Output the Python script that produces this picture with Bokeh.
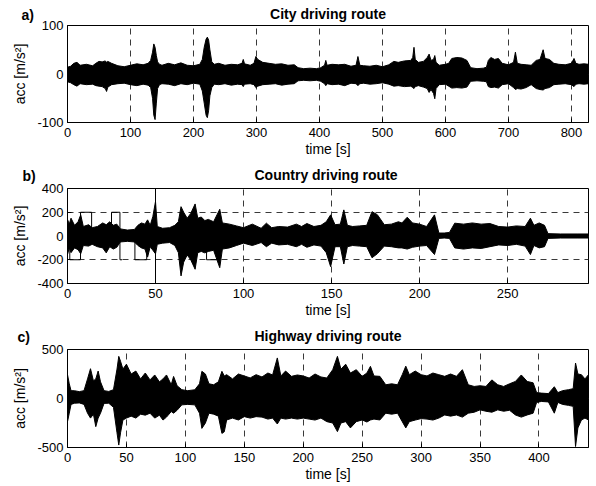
import math
from bokeh.plotting import figure
from bokeh.layouts import column
from bokeh.models import Title, Range1d
from bokeh.embed import file_html
from bokeh.resources import INLINE

FONT = "Liberation Sans"
NAN = float("nan")

# ---------------- a) City driving route (envelope of acc signal) ----------------
city_t = [0, 5, 10, 15, 20, 30, 40, 45, 50, 55,
          60, 62, 64, 70, 80, 90, 100, 110, 120, 128,
          132, 135, 137, 139, 141, 143, 146, 150, 160, 170,
          180, 190, 200, 210, 214, 217, 220, 222, 224, 226,
          229, 233, 240, 250, 260, 270, 277, 279, 281, 290,
          296, 299, 302, 310, 320, 330, 340, 350, 360, 366,
          375, 385, 395, 402, 408, 410, 412, 420, 430, 440,
          450, 458, 461, 464, 470, 480, 490, 500, 510, 518,
          525, 535, 545, 548, 550, 552, 557, 565, 571, 574,
          577, 581, 583, 585, 590, 600, 605, 610, 618, 626,
          634, 640, 650, 660, 665, 668, 672, 678, 684, 690,
          700, 708, 711, 714, 720, 728, 736, 744, 750, 755,
          758, 765, 772, 780, 790, 800, 804, 807, 812, 820,
          827]
city_up = [14, 16, 22, 24, 18, 20, 17, 22, 26, 25,
           27, 24, 26, 22, 17, 15, 18, 21, 19, 22,
           28, 45, 62, 55, 38, 25, 20, 18, 22, 19,
           23, 18, 17, 20, 30, 55, 72, 76, 70, 50,
           25, 20, 22, 18, 20, 19, 22, 30, 21, 18,
           22, 36, 30, 24, 22, 20, 21, 18, 19, 13,
           11, 12, 11, 13, 18, 28, 18, 20, 19, 20,
           16, 18, 36, 18, 17, 16, 18, 15, 19, 26,
           24, 27, 28, 34, 55, 30, 24, 26, 34, 41,
           28, 30, 38, 24, 18, 20, 22, 32, 34, 33,
           28, 13, 11, 12, 14, 28, 34, 30, 32, 22,
           19, 24, 45, 22, 20, 19, 18, 28, 30, 50,
           32, 30, 22, 20, 19, 22, 32, 22, 20, 21,
           20]
city_lo = [-16, -18, -22, -25, -20, -22, -21, -24, -25, -26,
           -30, -36, -27, -22, -20, -19, -22, -24, -21, -23,
           -28, -50, -85, -94, -60, -30, -22, -20, -21, -24,
           -20, -22, -19, -21, -35, -60, -85, -90, -75, -45,
           -28, -21, -22, -20, -23, -21, -22, -26, -21, -20,
           -22, -28, -25, -22, -21, -20, -23, -21, -20, -14,
           -13, -14, -13, -15, -20, -24, -20, -22, -21, -24,
           -19, -20, -24, -20, -19, -21, -20, -18, -21, -25,
           -24, -26, -25, -28, -30, -26, -24, -27, -30, -38,
           -32, -40, -51, -30, -22, -21, -25, -29, -28, -29,
           -27, -15, -14, -15, -16, -26, -28, -27, -29, -22,
           -20, -28, -32, -30, -31, -28, -22, -30, -32, -33,
           -30, -28, -22, -21, -20, -22, -26, -21, -20, -21,
           -20]
city_xticks = [0, 100, 200, 300, 400, 500, 600, 700, 800]
city_yticks = [-100, 0, 100]

# ---------------- b) Country driving route ----------------
country_t = [0, 1, 2, 4, 6, 7.5, 9, 12, 14, 17,
             20, 22, 24, 26, 28, 30, 34, 38, 40, 42,
             44, 45.5, 47, 48.5, 50, 51, 54, 58, 61, 63,
             64.5, 66, 68, 70, 72.5, 74, 76, 78, 80, 83,
             86.5, 88, 92, 96, 100, 105, 110, 113, 116, 120,
             125, 130, 133, 136, 140, 144, 147, 149.5, 152, 155,
             157, 159, 162, 166, 170, 173, 176, 180, 184, 188,
             190, 193, 196, 200, 204, 208.5, 211, 214, 217, 220,
             225, 230, 235, 240, 245, 250, 255, 260, 263, 265,
             268, 271, 273, 280, 290, 296]
country_up = [140, 100, 150, 90, 120, 178, 80, 95, 70, 80,
              110, 95, 120, 90, 100, 60, 50, 55, 90, 110,
              100, 136, 90, 165, 290, 80, 65, 70, 90, 120,
              247, 200, 150, 190, 270, 150, 160, 130, 140, 120,
              225, 110, 100, 85, 70, 100, 65, 108, 70, 80,
              75, 100, 80, 105, 80, 90, 120, 178, 95, 100,
              220, 90, 80, 85, 90, 205, 180, 95, 100, 120,
              110, 158, 110, 100, 80, 178, 25, 25, 30, 108,
              100, 110, 100, 105, 80, 75, 85, 80, 150, 90,
              110, 90, 20, 17, 17, 17]
country_lo = [-156, -100, -140, -100, -115, -150, -80, -85, -70, -90,
              -100, -142, -90, -110, -95, -50, -45, -50, -80, -100,
              -110, -178, -90, -120, -150, -70, -60, -55, -80, -140,
              -336, -220, -160, -200, -280, -140, -130, -142, -130, -120,
              -267, -110, -100, -80, -60, -80, -55, -90, -60, -75,
              -70, -90, -70, -95, -75, -85, -140, -258, -90, -90,
              -236, -90, -80, -85, -90, -183, -150, -85, -90, -100,
              -100, -110, -95, -85, -80, -156, -20, -17, -20, -100,
              -110, -100, -105, -90, -75, -80, -70, -85, -156, -80,
              -100, -90, -20, -17, -17, -17]
# rectangular trigger pulses visible in panel b (NaN = break)
mark_t = [1.3, 1.3, 7.4, 7.4, 13.7, 13.7, NAN,
          25, 25, 29.8, 29.8, 31, NAN,
          38.3, 38.3, 45, 45, NAN,
          50, 50, NAN,
          79, 79, 86, 86]
mark_v = [0, -200, -200, 200, 200, 0, NAN,
          0, 200, 200, -200, -200, NAN,
          0, -200, -200, 0, NAN,
          -400, 400, NAN,
          0, -200, -200, 0]
country_xticks = [0, 50, 100, 150, 200, 250]
country_yticks = [-400, -200, 0, 200, 400]

# ---------------- c) Highway driving route ----------------
highway_t = [0, 1.5, 3, 6, 10, 14, 17, 19.5, 22, 24,
             26, 28, 31, 35, 39, 42, 43.5, 45, 47, 50,
             54, 58, 62, 66, 70, 74, 78, 81, 84, 88,
             90, 93, 97, 102, 108, 112, 114, 117, 120, 124,
             128, 131, 133, 135, 140, 145, 150, 155, 160, 165,
             170, 174, 178, 181, 185, 190, 195, 200, 205, 210,
             215, 220, 225, 229, 232, 236, 240, 245, 250, 254,
             257, 260, 265, 270, 275, 280, 284, 287, 290, 295,
             300, 305, 310, 315, 320, 325, 330, 335, 340, 345,
             350, 355, 360, 365, 370, 375, 380, 385, 390, 395,
             398, 402, 408, 413, 416, 420, 425, 429, 431, 433,
             436, 439, 442]
highway_up = [243, 150, 80, 79, 70, 80, 200, 304, 180, 200,
              280, 170, 80, 72, 90, 300, 430, 380, 300, 350,
              250, 280, 200, 260, 190, 240, 170, 200, 240, 140,
              225, 130, 90, 80, 89, 150, 277, 250, 150, 140,
              170, 277, 230, 243, 200, 250, 230, 210, 243, 220,
              260, 240, 414, 230, 280, 226, 240, 230, 209, 250,
              220, 209, 294, 430, 300, 350, 260, 294, 226, 260,
              328, 230, 226, 140, 150, 140, 243, 330, 243, 280,
              243, 230, 260, 243, 226, 250, 226, 294, 140, 123,
              130, 123, 190, 140, 123, 150, 174, 240, 174, 160,
              60, 55, 50, 120, 60, 80, 90, 100, 362, 250,
              243, 200, 243]
highway_lo = [-236, -150, -60, -48, -45, -60, -150, -200, -160, -287,
              -200, -150, -50, -48, -90, -350, -475, -350, -220, -200,
              -180, -200, -160, -170, -150, -200, -170, -220, -190, -133,
              -150, -120, -65, -60, -65, -150, -305, -250, -150, -160,
              -180, -356, -340, -219, -200, -219, -185, -200, -185, -190,
              -210, -200, -260, -200, -210, -200, -210, -200, -210, -220,
              -200, -236, -250, -338, -250, -236, -300, -236, -219, -240,
              -219, -210, -219, -150, -160, -150, -236, -300, -236, -220,
              -205, -210, -220, -200, -168, -180, -168, -190, -150, -140,
              -116, -130, -140, -116, -130, -120, -168, -190, -168, -150,
              -40, -30, -35, -150, -40, -60, -70, -80, -490, -300,
              -219, -200, -219]
highway_xticks = [0, 50, 100, 150, 200, 250, 300, 350, 400]
highway_yticks = [-500, 0, 500]


def make_panel(letter, title, t, up, lo, xmax, xticks, yticks, height, top, bottom,
               title_off, letter_off):
    p = figure(width=596, height=height, output_backend="svg", toolbar_location=None,
               x_range=Range1d(0, xmax), y_range=Range1d(yticks[0], yticks[-1]),
               min_border_left=67, min_border_right=8,
               min_border_top=top, min_border_bottom=bottom)
    p.background_fill_color = "white"
    p.border_fill_color = "white"
    p.outline_line_color = "black"
    p.outline_line_width = 1
    p.outline_line_alpha = 1

    # letter title sits next to the frame (its panel fills the top border),
    # main title is stacked outside it and pulled down onto the same line
    s_letter = top - 19
    anchor = top - s_letter / 2
    s_main = 2 * (2 - anchor)

    p.title.text = title
    p.title.align = "center"
    p.title.offset = title_off
    p.title.standoff = s_main
    p.title.text_font = FONT
    p.title.text_font_size = "14px"
    p.title.text_font_style = "bold"
    p.title.text_color = "black"

    p.add_layout(Title(text=letter, align="left", offset=letter_off, standoff=s_letter,
                       text_font=FONT, text_font_size="14px", text_font_style="bold",
                       text_color="black"), "above")

    p.varea(x=t, y1=lo, y2=up, fill_color="black")
    p.line(t, up, line_color="black", line_width=1)
    p.line(t, lo, line_color="black", line_width=1)

    for ax, ticks in ((p.xaxis, xticks), (p.yaxis, yticks)):
        ax.ticker = ticks
        ax.major_label_overrides = {v: str(v) for v in ticks}
        ax.major_tick_in = 4
        ax.major_tick_out = 0
        ax.minor_tick_line_color = None
        ax.axis_line_color = "black"
        ax.major_tick_line_color = "black"
        ax.major_label_text_font = FONT
        ax.major_label_text_font_size = "13px"
        ax.major_label_text_color = "black"
        ax.axis_label_text_font = FONT
        ax.axis_label_text_font_size = "14px"
        ax.axis_label_text_font_style = "normal"
        ax.axis_label_text_color = "black"
    p.xaxis.axis_label = "time [s]"
    p.xaxis.major_label_standoff = 5
    p.xaxis.axis_label_standoff = 1
    p.yaxis.axis_label = "acc [m/s²]"
    p.yaxis.major_label_standoff = 4
    p.yaxis.axis_label_standoff = 6

    for g in (p.xgrid, p.ygrid):
        g.grid_line_color = "#3a3a3a"
        g.grid_line_dash = "6 5"
        g.grid_line_width = 1
        g.grid_line_alpha = 1
        g.level = "underlay"
    return p


pa = make_panel("a)", "City driving route", city_t, city_up, city_lo, 827,
                city_xticks, city_yticks, 160, 25, 38, -6, -46)
pb = make_panel("b)", "Country  driving route", country_t, country_up, country_lo, 296,
                country_xticks, country_yticks, 160, 28, 36, 4, -45)
pb.line(mark_t, mark_v, line_color="black", line_width=1)
pc = make_panel("c)", "Highway driving route", highway_t, highway_up, highway_lo, 442,
                highway_xticks, highway_yticks, 166, 29, 39, 20, -50)

layout = column(pa, pb, pc, spacing=0)
open("out.html", "w").write(file_html(layout, INLINE))
